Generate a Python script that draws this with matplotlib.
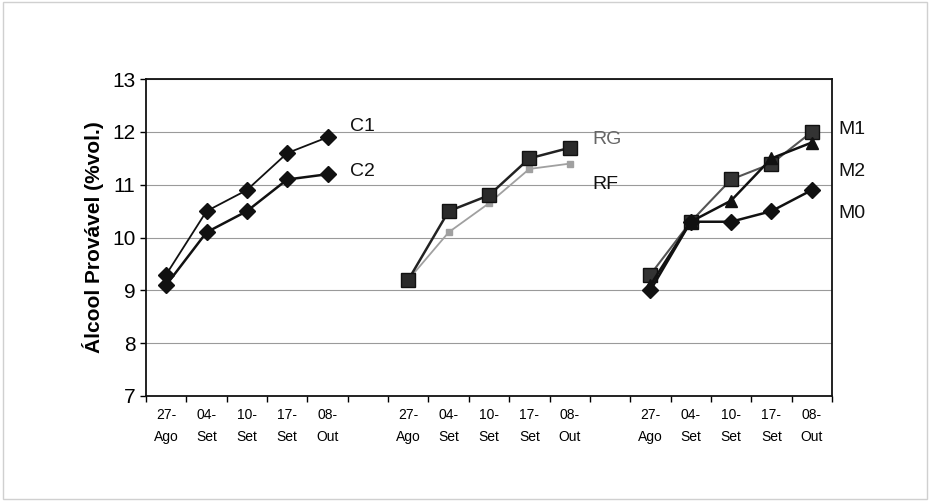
import matplotlib
matplotlib.use("Agg")
import matplotlib.pyplot as plt
import numpy as np

# five sampling dates, repeated for three groups with one empty slot between groups
dates = ["27-\nAgo", "04-\nSet", "10-\nSet", "17-\nSet", "08-\nOut"]

c1 = [9.3, 10.5, 10.9, 11.6, 11.9]
c2 = [9.1, 10.1, 10.5, 11.1, 11.2]
rg = [9.2, 10.5, 10.8, 11.5, 11.7]
rf = [9.2, 10.1, 10.65, 11.3, 11.4]
m1 = [9.3, 10.3, 11.1, 11.4, 12.0]
m2 = [9.1, 10.3, 10.7, 11.5, 11.8]
m0 = [9.0, 10.3, 10.3, 10.5, 10.9]

plt.rcParams["font.family"] = ["Liberation Sans", "DejaVu Sans"]

fig = plt.figure(figsize=(9.3, 5.01), dpi=100)
ax = fig.add_axes([0.157, 0.2096, 0.7376, 0.6324])

n_slots = 17
g1 = np.arange(0, 5)
g2 = np.arange(6, 11)
g3 = np.arange(12, 17)

dk = "#111111"
ax.plot(g1, c1, color=dk, lw=1.3, marker="D", ms=8, mfc=dk, mec=dk, zorder=3)
ax.plot(g1, c2, color=dk, lw=1.8, marker="D", ms=8, mfc=dk, mec=dk, zorder=3)

ax.plot(g2, rf, color="#a0a0a0", lw=1.3, marker="s", ms=4, mfc="#a0a0a0", mec="#a0a0a0", zorder=3)
ax.plot(g2, rg, color="#222222", lw=1.8, marker="s", ms=10, mfc="#2a2a2a", mec="#111111", zorder=4)

ax.plot(g3, m1, color="#555555", lw=1.5, marker="s", ms=10, mfc="#333333", mec="#111111", zorder=3)
ax.plot(g3, m2, color=dk, lw=1.8, marker="^", ms=9, mfc=dk, mec=dk, zorder=4)
ax.plot(g3, m0, color=dk, lw=1.8, marker="D", ms=8, mfc=dk, mec=dk, zorder=3)

# series labels
ax.text(4.55, 12.1, "C1", fontsize=14, va="center", ha="left", color="#111111")
ax.text(4.55, 11.25, "C2", fontsize=14, va="center", ha="left", color="#111111")
ax.text(10.55, 11.85, "RG", fontsize=14, va="center", ha="left", color="#666666")
ax.text(10.55, 11.0, "RF", fontsize=14, va="center", ha="left", color="#111111")
ax.text(16.65, 12.05, "M1", fontsize=14, va="center", ha="left", color="#111111", clip_on=False)
ax.text(16.65, 11.25, "M2", fontsize=14, va="center", ha="left", color="#111111", clip_on=False)
ax.text(16.65, 10.45, "M0", fontsize=14, va="center", ha="left", color="#111111", clip_on=False)

ax.set_xlim(-0.5, n_slots - 0.5)
ax.set_ylim(7, 13)
ax.set_yticks(range(7, 14))
ax.tick_params(axis="y", labelsize=15, length=4, width=1)
ax.grid(axis="y", color="#9a9a9a", lw=0.8)
ax.set_axisbelow(True)

centers = np.concatenate([g1, g2, g3])
ax.set_xticks(centers)
ax.set_xticklabels(dates * 3, fontsize=10, linespacing=1.7)
ax.tick_params(axis="x", which="major", length=0, pad=9)
ax.set_xticks(np.arange(-0.5, n_slots, 1.0), minor=True)
ax.tick_params(axis="x", which="minor", length=4, width=1)

for s in ax.spines.values():
    s.set_color("#111111")
    s.set_linewidth(1.3)

ax.set_ylabel("Álcool Provável (%vol.)", fontsize=15, fontweight="bold", labelpad=6)

# faint outer frame
fig.patches.append(plt.Rectangle((0.003, 0.003), 0.994, 0.994, transform=fig.transFigure,
                                 fill=False, edgecolor="#d0d0d0", lw=1))

fig.savefig("out.png", dpi=100)
